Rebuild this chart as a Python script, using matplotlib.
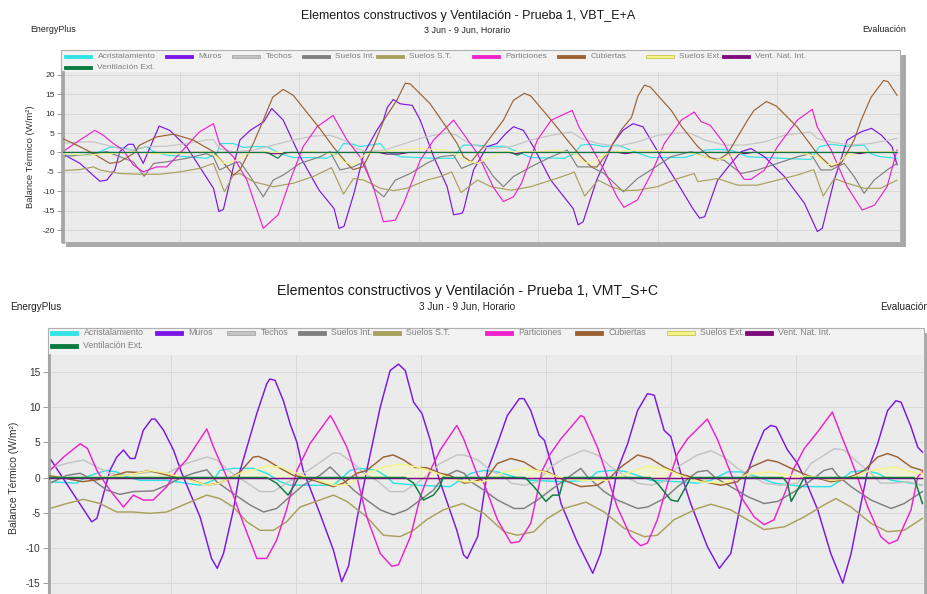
import matplotlib
matplotlib.use('Agg')
import matplotlib.pyplot as plt
from matplotlib.patches import Rectangle

plt.rcParams['font.family'] = ['Liberation Sans', 'DejaVu Sans']
plt.rcParams['axes.unicode_minus'] = False

W, H = 928, 594

# legend order / colours
names = ['Acristalamiento', 'Muros', 'Techos', 'Suelos Int.', 'Suelos S.T.',
         'Particiones', 'Cubiertas', 'Suelos Ext.', 'Vent. Nat. Int.', 'Ventilación Ext.']
colors = ['#30e3e6', '#7b16e6', '#c4c4c4', '#808080', '#a9a05c',
          '#ee22cc', '#9c6233', '#f4f48a', '#7d0a7d', '#0b7a3e']

# ---------------- Prueba 1, VBT_E+A  (hour of week, W/m2) ----------------
vbt_acris_h = [0, 6, 8, 10, 12, 14.7, 17.4, 18.8, 21.4, 25.4, 29.4, 31.5, 32.1, 34.8, 36.8, 38.8, 41.5, 44.2, 46.8, 50.8,
               53.5, 55.5, 56.9, 58.9, 60.2, 64.3, 65.6, 68.3, 75, 79, 80.3, 81, 83.8, 86.5, 89.2, 91.8, 94.5, 101.2, 103.2, 104.6,
               106.6, 109.2, 111.9, 113.2, 115.2, 118.6, 125.3, 128, 129.4, 132, 134.7, 138, 144.8, 150.7, 152.4, 154.8, 158, 161.4, 162.7, 164.7, 168]
vbt_acris_v = [-0.7, -0.7, 0.2, 1.3, 1.3, 0.6, 1.5, 0.2, -0.7, -1.1, -1.5, -0.3, 2.3, 2.3, 1.3, 1.5, 1.5, -0.3, -1.3, -1.3,
               -1.5, -0.3, 2.3, 2.1, 1.5, 2.3, 0.2, -1.1, -1.5, -1.5, 1.0, 1.9, 1.9, 1.5, 1.6, 0.2, -1.3, -1.5, -0.3, 1.9,
               2.1, 1.5, 1.9, 1.3, 0.2, -1.3, -1.3, -0.3, 0.6, 0.8, 0.6, -1.1, -1.5, -1.8, 1.5, 2.1, 1.6, 1.9, -0.3, -1.1, -1.5]

vbt_muros_h = [0, 4, 8, 9.4, 11, 12, 13.7, 14.7, 16.7, 19.9, 22, 25.4, 30.8, 31.9, 32.8, 34.8, 36.1, 38.2, 40.9, 42.5,
               44.8, 48.2, 52, 55, 56, 57, 59, 61, 63.6, 64.9, 65.7, 66.9, 68.3, 70.7, 72.3, 75, 77.7, 79, 80.7, 81,
               83, 85.7, 87.7, 89.5, 91, 93, 95, 98.5, 103, 104, 105, 107.7, 111, 113, 115, 117, 120.6, 124, 127, 128.4,
               129.4, 132, 134.7, 136.7, 138.7, 141.4, 145.4, 149.4, 152, 153, 155.4, 158, 160.8, 162.9, 164.9, 167, 168]
vbt_muros_v = [0, -2.8, -7.4, -7.1, -4.5, 0.2, 2.1, 2.1, -2.8, 6.8, 5.7, 1.5, -9.2, -15.2, -14.6, -3.7, 3.2, 5.7, 7.9, 11.3,
               8.3, -1.1, -9.7, -14.4, -19.5, -19.0, -10.5, -0.3, 5.7, 8.3, 11.6, 13.6, 12.5, 12.1, 8.3, -1.1, -8.8, -16.0, -15.6, -14.8,
               -4.5, 1.5, 2.3, 4.9, 6.6, 5.7, 1.5, -7.1, -14.4, -18.6, -17.8, -7.1, 2.3, 5.7, 7.4, 6.6, -1.1, -8.0, -14.4, -16.9,
               -16.5, -7.1, -2.8, 0.2, 1.0, -1.1, -6.2, -13.0, -20.3, -19.5, -7.1, 3.2, 5.3, 6.2, 4.4, 1.5, -3.2]

vbt_techos_h = [0, 4, 6.7, 9.4, 12, 14.7, 17.4, 21.4, 25.4, 29.4, 30.8, 32, 34.8, 38.8, 42.8, 46.8, 50.8, 54.2, 56.9, 59.6,
                61.6, 65, 68.3, 72.3, 75, 77.7, 79.5, 81, 83, 86.5, 90.5, 94.5, 98.6, 102.6, 104.6, 108, 111.9, 115.9, 120, 124,
                126.6, 129.4, 133.3, 137.3, 141.4, 145.4, 150.6, 152, 154.8, 158.7, 162.7, 168]
vbt_techos_v = [2.3, 2.7, 2.7, 1.9, 1.0, 0.6, 1.5, 1.6, 2.3, 3.2, 3.3, 1.0, 0.2, 0.6, 1.9, 3.2, 4.2, 4.4, 3.2, 1.0,
                0.2, 0.6, 1.9, 3.6, 4.4, 5.0, 4.5, 3.2, 1.9, 1.0, 1.5, 3.2, 4.4, 5.3, 3.6, 2.3, 1.6, 2.7, 4.4, 5.0,
                4.9, 3.2, 1.9, 1.9, 2.7, 4.4, 5.3, 3.6, 2.7, 1.9, 2.3, 3.6]

vbt_sint_h = [0, 4, 6.7, 9.4, 12, 14.7, 16.9, 18.8, 21.4, 25.4, 29.4, 30.8, 32, 34.8, 36.1, 38.2, 40.8, 42.8, 44.8, 48.2,
              52.2, 54.2, 56.2, 58.9, 61, 62.9, 65, 67.3, 70.3, 73.6, 76.3, 79, 80.6, 83, 85, 87, 89, 91, 94.5, 98.6,
              101.8, 103.9, 106.6, 109.2, 113.1, 115.9, 118.6, 122.6, 126.7, 129.4, 133.3, 136.7, 140, 144, 148, 150.7, 152.7, 154.8, 157.4, 159.4,
              161.4, 163.4, 166, 168]
vbt_sint_v = [-1.1, -0.7, -0.3, 0.2, -1.1, -2.4, -6.1, -2.8, -2.4, -1.5, -0.3, -1.1, -4.5, -2.8, -2.4, -6.2, -11.4, -7.1, -5.8, -2.8,
              -1.1, 0.2, -4.5, -3.7, -2.4, -9.2, -11.4, -7.1, -5.4, -2.8, -1.1, -0.7, -4.1, -2.8, -2.4, -6.2, -8.8, -6.2, -3.7, -1.1,
              0.6, -3.7, -3.7, -5.4, -10.1, -6.7, -4.5, -1.1, 0.2, -1.1, -2.0, -5.4, -4.5, -2.8, -1.1, -0.3, -4.5, -4.5, -2.8, -6.2,
              -10.5, -7.1, -4.5, -2.8]

vbt_sst_h = [0, 4, 6.7, 8, 12, 16, 20, 24, 28, 30.8, 33, 34.8, 36.1, 38.8, 42.8, 46.8, 50.8, 54.5, 56.9, 58.9,
             61, 64.3, 67, 69.6, 73.6, 76.3, 78.6, 80.5, 83.8, 86.5, 90.5, 94.5, 98.6, 102.6, 103.2, 105.3, 108, 110.6, 113.2, 115.9,
             119.9, 124, 127.3, 128, 132, 136, 140, 144, 148, 151.3, 153.2, 155.4, 158, 161.4, 164.7, 168]
vbt_sst_v = [-4.7, -4.4, -3.7, -4.5, -5.4, -5.6, -5.6, -5.0, -4.1, -2.8, -10.1, -5.8, -5.4, -7.5, -8.8, -7.9, -6.2, -3.9, -10.7, -6.7,
             -7.1, -9.2, -9.8, -9.2, -7.1, -6.2, -5.0, -10.3, -7.1, -8.8, -9.7, -8.8, -7.1, -5.4, -5.0, -11.2, -7.1, -8.8, -9.8, -9.7,
             -8.8, -6.7, -5.4, -7.5, -6.7, -8.4, -8.4, -7.1, -5.8, -4.4, -11.2, -6.7, -7.9, -9.2, -9.2, -7.1]

vbt_part_h = [0, 4, 7, 8.7, 10.7, 12.7, 14.7, 16.7, 19.4, 21.4, 24, 28, 30.8, 32, 34.8, 37.5, 40.8, 43.8, 46.2, 48.8,
              51.6, 54.8, 57.6, 60.2, 62.9, 64.9, 67.3, 69, 72.3, 75, 79, 83.8, 87, 89, 91, 92.6, 95.8, 98.6, 102.8, 104.2,
              106.6, 109.2, 111.8, 113.2, 115.9, 118.7, 121.3, 124.7, 127.3, 128.7, 130.5, 133.3, 136, 137.3, 138.7, 141.4, 144, 148, 151, 152,
              154.8, 158, 161, 163.5, 166, 168]
vbt_part_v = [-0.3, 3.2, 5.7, 4.4, 2.3, 0.6, -3.2, -5.0, -3.7, -3.7, -0.3, 5.3, 7.4, 2.3, -1.1, -7.1, -19.5, -16.0, -7.1, 1.5,
              6.6, 9.5, 3.2, -1.1, -8.8, -17.8, -17.4, -13.0, -2.0, 3.2, 8.3, -0.3, -9.0, -12.6, -11.4, -8.0, 3.2, 8.3, 10.8, 6.5,
              1.5, -4.5, -11.4, -14.1, -12.2, -5.4, 2.3, 8.3, 10.4, 7.9, 7.0, 2.3, -4.5, -6.9, -6.9, -4.5, 1.5, 8.3, 11.1, 6.5,
              0.6, -8.8, -14.8, -13.5, -8.8, 0.6]

vbt_cub_h = [0, 4, 6.7, 10, 12, 14.7, 16, 19.4, 22.8, 26.7, 30.8, 33.5, 34.8, 36.1, 38.8, 40.8, 42.7, 44.8, 46.8, 52,
             54.8, 57.6, 58.8, 60.8, 62.9, 65, 67.6, 69.3, 70.3, 74.3, 77.5, 79.7, 81, 82.5, 85, 89, 91, 93.2, 94.5, 98.6,
             101.8, 104.6, 106.6, 107.8, 109.8, 112.6, 114.7, 116, 117.3, 118.5, 122.7, 124.7, 128, 130.7, 132, 134, 136, 138, 139.3, 141.8,
             143.8, 148, 152, 154.8, 156.8, 159.4, 160.8, 162.8, 165.3, 166.2, 168]
vbt_cub_v = [3.9, 1.5, -0.3, -2.8, -2.4, -0.3, 1.9, 4.0, 4.7, 3.2, 0.2, -3.7, -5.8, -4.5, 2.3, 8.3, 14.2, 16.2, 14.7, 6.4,
             1.5, -2.8, -4.4, -3.7, 1.5, 8.3, 13.4, 17.8, 17.6, 12.5, 6.6, 2.3, -1.1, -2.4, 1.5, 8.3, 13.4, 15.2, 14.5, 8.3,
             3.2, -1.1, -3.7, -3.7, -0.3, 5.7, 9.0, 14.5, 17.3, 16.8, 10.8, 6.8, 1.5, -1.5, -2.0, -0.3, 4.0, 8.3, 10.8, 13.1,
             11.9, 6.5, -0.3, -3.7, -2.8, 3.2, 8.3, 14.2, 18.5, 18.2, 14.7]

vbt_sext_h = [0, 5.4, 10, 14.7, 18.8, 24, 29.4, 31.5, 32.8, 34.8, 37.5, 41.5, 45.5, 50.8, 54.9, 56.9, 58.9, 60.2, 61.6, 67,
              72.3, 77.7, 80.6, 81, 83.8, 86.5, 89.2, 94.5, 99.9, 103.2, 104.6, 106.6, 108.6, 110.6, 115.9, 121.3, 126.7, 129.4, 131.4, 133.4,
              136, 141.4, 148, 152, 154, 156, 158, 161.4, 168]
vbt_sext_v = [-0.3, -0.7, -0.3, 0.2, -0.3, -0.3, 0.2, -1.1, -2.8, -2.4, -0.3, 0.2, -0.1, 0.2, -0.3, -2.4, -3.2, -1.5, -0.3, 0.6,
              1.0, 0.6, -1.1, -2.0, -2.8, -1.1, 0.2, 0.2, 0.6, -0.3, -2.4, -2.8, -1.1, 0.2, 0.6, 0.4, -0.1, -1.1, -2.0, -1.5,
              -0.3, 0.2, 0.2, -1.1, -3.2, -2.8, -0.7, 0.2, 0.2]

vbt_vni_h = [0, 41, 42.5, 44.5, 46, 64, 65.5, 68, 70, 90, 91.5, 93, 112, 113.5, 115, 136, 137.5, 139, 159, 160.5, 162, 168]
vbt_vni_v = [0, 0, -0.3, -0.3, 0, 0, -0.4, -0.4, 0, 0, -0.3, 0, 0, -0.3, 0, 0, -0.3, 0, 0, -0.3, 0, 0]

vbt_vext_h = [0, 41.5, 42.8, 43.7, 45, 90.5, 91.8, 93, 168]
vbt_vext_v = [0, 0, -0.8, -1.5, 0, 0, -0.7, 0, 0]

# ---------------- Prueba 1, VMT_S+C ----------------
vmt_acris_h = [0, 5.9, 7.8, 9.8, 11.7, 13.6, 15.5, 18.1, 23.2, 29.6, 32.2, 33.4, 36, 39.8, 42.4, 45, 46.9, 55.2, 57.1, 58.4,
               60.3, 63.5, 65.5, 66.7, 71.2, 77.6, 79.5, 81.6, 84.1, 86.7, 89.9, 93.1, 99.5, 104, 105.9, 108.5, 111, 113.6, 116.1, 121.3,
               125.1, 127.7, 130.9, 133.4, 136.6, 139.8, 145.6, 150.7, 152.6, 154.6, 157.1, 159.7, 162.3, 166.1, 168.3]
vmt_acris_v = [-0.6, -0.8, 0.1, 0.6, 1.0, 0.8, 0.1, -0.4, -0.4, -1.1, -0.4, 1.0, 1.3, 1.3, 0.6, -0.6, -1.1, -1.1, 0.1, 1.0,
               1.3, 1.0, 0.1, -0.8, -1.1, -1.3, -0.4, 0.6, 1.0, 0.8, 0.1, -0.4, -0.6, -0.4, 0.8, 1.0, 0.9, 0.3, -0.4, -0.6,
               -0.8, -0.4, 0.8, 0.8, 0.1, -0.8, -1.3, -1.3, -0.4, 0.8, 1.0, 0.6, -0.4, -0.8, -1.1]

vmt_muros_h = [0, 0.8, 8.8, 9.8, 12.3, 13.6, 14.9, 16.2, 17.1, 18.7, 20.3, 21, 22.6, 24.5, 26.1, 29.6, 31.8, 32.9, 34.1, 36,
               37.3, 38.6, 40.5, 42.4, 43, 44, 45.6, 46.9, 48.2, 49.4, 52.6, 55.2, 56.8, 58.1, 59.7, 61.6, 62.3, 64.2, 66.1, 67.7,
               69, 70.6, 72.2, 73.8, 75.4, 78.9, 80.2, 80.9, 82.9, 84.8, 86.7, 88.6, 90.9, 91.8, 93.1, 94.7, 95.7, 97.6, 98.9, 102.1,
               105, 106.5, 108.5, 109.7, 111.7, 113.6, 115.5, 116.8, 118.7, 120, 121.9, 123.8, 127, 129.3, 131.5, 133.4, 134.4, 136, 137.9, 139.2,
               140.2, 142.4, 144.3, 145.6, 148.2, 150.7, 153, 154.6, 156.5, 157.8, 159.7, 161.6, 163.2, 164.2, 166.1, 167.4, 168.3]
vmt_muros_v = [3.0, 2.7, -6.3, -5.8, 1.0, 2.9, 3.9, 2.7, 2.7, 6.7, 8.3, 8.3, 6.7, 3.9, 0.6, -5.6, -11.5, -12.9, -10.8, -4.6,
               1.0, 4.3, 9.1, 13.3, 14.0, 13.8, 10.9, 7.6, 5.0, 1.0, -5.1, -10.3, -14.8, -12.6, -6.0, 1.0, 3.4, 10.0, 15.2, 16.1,
               15.2, 10.7, 9.1, 5.3, 0.0, -7.5, -11.0, -11.5, -8.4, 1.0, 4.8, 8.8, 11.2, 11.2, 9.5, 6.0, 5.3, 0.6, -3.7, -9.3,
               -13.6, -10.8, -3.7, 1.0, 4.8, 9.5, 11.9, 11.7, 6.7, 5.8, 0.6, -3.7, -9.8, -12.9, -10.8, -3.7, 0.1, 3.4, 6.7, 7.4,
               7.2, 3.9, 2.0, 0.0, -4.6, -10.8, -15.0, -10.8, -3.7, 1.0, 4.8, 9.5, 10.9, 10.7, 7.2, 4.3, 3.6]

vmt_techos_h = [0, 0.8, 4, 7.2, 9.8, 12.3, 14.9, 18.1, 20.6, 23.2, 27, 30.9, 32.8, 35.4, 37.9, 41.1, 43.7, 46.2, 48.8, 51.4,
                55.2, 56.5, 59.1, 61, 63.5, 66.1, 68.7, 71.2, 73.8, 75.7, 78.9, 80.3, 82.9, 85.4, 88, 89.3, 91.8, 94.4, 96.9, 99.5,
                103.3, 105.9, 108.5, 111, 113.6, 116.1, 118.7, 121.3, 125.1, 127.7, 130.2, 132.8, 135.4, 137.9, 141.1, 144.3, 146.9, 151.4, 153.3, 155.8,
                158.4, 160.3, 162.9, 165.4, 168.3]
vmt_techos_v = [1.2, 1.3, 2.0, 2.5, 1.5, 0.6, 0.3, 0.6, 0.8, 0.6, 2.0, 2.9, 2.5, 0.8, -0.4, -2.0, -2.0, -0.8, 0.3, 1.5,
                3.5, 3.4, 2.0, 0.6, -0.4, -2.0, -2.0, -0.8, 0.6, 2.0, 3.2, 3.2, 2.5, 1.0, 0.1, -0.8, -1.1, -0.6, 1.5, 2.7,
                3.9, 3.2, 1.5, 0.3, -0.8, -1.1, -0.6, 1.5, 3.2, 3.8, 2.9, 1.3, 0.3, -0.8, -1.1, -0.8, 2.0, 4.1, 3.9, 2.2,
                0.6, -0.8, -0.8, -0.6, -1.1]

vmt_sint_h = [0, 0.8, 4, 6.6, 9.1, 11.7, 14.2, 16.8, 20.6, 23.2, 25.8, 28.3, 30.9, 32.8, 36, 39.2, 41.8, 44.3, 46.9, 49.4,
              52.6, 54.6, 56.5, 59.1, 61.6, 64.2, 66.7, 69.3, 71.9, 74.4, 76.3, 78.9, 80.3, 81.6, 84.1, 86.7, 89.9, 91.8, 94.4, 96.9,
              99.5, 102.7, 104, 107.2, 109.7, 113.6, 115.5, 118.7, 121.3, 125.1, 127, 128.5, 131.5, 134.7, 137.9, 140.5, 143.7, 146.2, 149.4, 151,
              152, 154.6, 158.4, 162.3, 164.8, 168.3]
vmt_sint_v = [-0.9, -0.8, 0.3, 0.6, -0.4, -1.8, -2.4, -2.0, -1.9, -1.1, -0.1, 0.6, 1.1, -0.6, -2.3, -3.9, -4.9, -4.4, -2.7, -1.1,
              0.3, 1.5, 0.1, -1.8, -3.2, -4.6, -5.3, -4.6, -3.2, -1.8, 0.1, 1.0, 0.6, -0.6, -1.8, -3.2, -4.4, -4.4, -3.2, -1.8,
              -0.4, 1.3, 0.1, -2.0, -3.2, -4.4, -4.2, -3.0, -1.3, 0.8, 1.0, 0.0, -1.3, -2.7, -3.7, -3.4, -2.0, -0.8, 1.0, 1.3,
              0.3, -1.3, -3.2, -4.4, -3.7, -2.0]

vmt_sst_h = [0, 0.8, 4, 7.2, 10.4, 13.6, 16.8, 20, 23.2, 27, 30.9, 33.4, 36, 38.6, 41.1, 43.7, 46.2, 48.8, 52.6, 55.2,
             57.8, 61.6, 64.8, 68, 70.6, 73.1, 76.3, 80, 84.1, 88, 90.5, 93.7, 96.3, 99.5, 103.7, 107.2, 111, 114.9, 117.4, 120.6,
             125.1, 127.7, 131.5, 134.7, 137.9, 141.8, 145.6, 149.4, 151.7, 154.6, 158.4, 161.6, 164.8, 168.3]
vmt_sst_v = [-4.5, -4.4, -3.7, -3.1, -3.7, -4.9, -4.9, -5.1, -4.9, -3.7, -2.5, -3.0, -4.2, -6.3, -7.5, -7.5, -6.3, -4.2, -3.2, -2.5,
             -3.4, -5.6, -8.2, -8.4, -7.5, -6.0, -4.6, -3.7, -5.1, -7.7, -8.2, -7.7, -5.8, -4.4, -3.5, -4.9, -7.2, -8.4, -8.2, -6.0,
             -4.4, -3.8, -4.6, -6.0, -7.4, -7.0, -5.6, -3.9, -3.0, -4.2, -6.5, -7.7, -7.5, -5.8]

vmt_part_h = [0, 0.8, 3.4, 6.6, 8, 9.8, 10.4, 12.3, 14.9, 16.8, 18.7, 20.6, 23.2, 25.1, 27, 30.9, 32.2, 34.7, 37.9, 40.5,
              42.4, 44.3, 46.2, 48.2, 50.7, 54.6, 55.2, 57.8, 59.7, 61.6, 64.2, 66.4, 67.7, 70, 71.9, 73.8, 75.7, 78.9, 80.2, 82.9,
              84.1, 86.7, 89.3, 90.9, 93.1, 95.3, 96.9, 98.9, 102.7, 103.3, 105.9, 107.8, 109.7, 112.3, 114.2, 115.5, 117.4, 119.4, 121.3, 123.2,
              127, 129, 131.5, 133.4, 136, 137.9, 139.8, 142.1, 143.4, 145.6, 148.2, 151, 152.6, 154.6, 155.8, 157.8, 160.3, 161.9, 163.5, 166.1,
              167.4, 168.3]
vmt_part_v = [0.8, 1.0, 2.9, 4.8, 4.1, 1.0, 0.3, -1.8, -4.2, -2.5, -3.2, -3.2, -1.3, 1.0, 2.5, 6.9, 4.3, 0.1, -6.5, -11.5,
              -11.5, -8.9, -4.6, 1.0, 4.8, 8.8, 8.1, 4.3, 0.1, -5.6, -10.8, -12.6, -12.4, -8.4, -2.7, 1.0, 3.9, 7.4, 5.5, 0.3,
              -0.8, -6.0, -9.3, -9.1, -6.5, 1.0, 3.4, 5.5, 8.8, 8.6, 4.3, 0.1, -4.2, -8.4, -9.7, -9.3, -6.0, -0.8, 3.4, 5.5,
              8.3, 5.3, 0.6, -2.7, -5.6, -6.7, -6.0, -1.8, 1.0, 4.1, 6.5, 9.3, 6.2, 2.5, 0.1, -4.2, -8.4, -9.4, -8.9, -4.6,
              0.1, 0.8]

vmt_cub_h = [0, 3, 7, 10, 12.3, 15.5, 18, 19.7, 21.9, 24.5, 27, 30.9, 33.4, 36, 37.3, 39.8, 40.8, 42.4, 45, 47.5,
             48.8, 51.4, 55.2, 57.1, 59.7, 61.6, 64.8, 66.7, 68.7, 70.9, 73.1, 75.7, 77.6, 80.3, 82.2, 84.8, 86.7, 89.3, 91.8, 94.4,
             96.3, 98.2, 99.5, 102.7, 105.9, 108.5, 110.4, 113.6, 116.1, 118.7, 121.3, 123.8, 126.4, 129.6, 132.8, 135.4, 138.6, 140.5, 143.1, 146.2,
             150.7, 152.6, 155.2, 157.1, 159.7, 161.6, 163.5, 166.1, 168.3]
vmt_cub_v = [0.3, 0.0, -0.6, -0.3, 0.1, 0.8, 0.7, 1.0, 0.6, 0.1, -0.1, -1.1, -0.8, 0.2, 0.8, 2.9, 3.0, 2.5, 1.3, 0.3,
             0.1, -0.4, -1.3, -0.8, 0.6, 1.0, 2.9, 3.2, 2.5, 1.4, 1.4, 0.6, 0.3, -0.8, -0.6, 0.1, 2.0, 2.7, 2.2, 1.0,
             0.8, 0.1, -0.4, -1.3, -1.1, 0.1, 1.5, 3.2, 2.7, 1.5, 0.6, 0.1, -0.6, -1.1, -0.6, 1.5, 2.5, 2.2, 1.3, 0.3,
             -0.6, -0.4, 0.3, 1.0, 2.9, 3.4, 2.9, 1.5, 1.0]

vmt_sext_h = [0, 10, 15.5, 20, 23.2, 26, 30.9, 33.4, 37.3, 42.4, 45, 47.5, 50.1, 55.2, 57.8, 61.6, 64.8, 68, 71.2, 74.4,
              77, 80.3, 84.1, 88, 91.8, 95.7, 98.2, 102.7, 107.8, 112.3, 115.5, 118.7, 121.9, 125.1, 130.2, 135.4, 139.2, 143.1, 147.5, 150.7,
              154, 158.4, 162.9, 166.1, 168.3]
vmt_sext_v = [0.0, 0.0, 0.3, 1.0, 0.6, 0.0, -1.1, -0.8, 0.6, 1.6, 1.5, 0.8, 0.1, -1.1, -1.1, 0.6, 1.5, 1.9, 1.5, 0.8,
              0.1, -0.6, -0.6, 0.8, 1.3, 0.8, 0.1, -0.4, -0.4, 0.8, 1.6, 1.3, 0.3, -0.6, -0.8, 0.6, 0.8, 0.3, 0.1, -0.4,
              -0.2, 1.0, 1.5, 0.8, 0.6]

vmt_vni_h = [0, 168.3]
vmt_vni_v = [0, 0]

vmt_vext_h = [0, 42.4, 44.3, 46.5, 47.8, 48.5, 69, 70.6, 72.5, 74.4, 75.5, 76.3, 92, 93.7, 96, 97.3, 98.6, 99.5, 116, 117.4,
              120, 121.3, 122.9, 123.8, 141.5, 142.4, 143.1, 144.3, 145.6, 166.7, 168.3]
vmt_vext_v = [0, 0, -0.8, -2.5, -1.0, 0, 0, -0.8, -3.2, -2.5, -1.5, 0, 0, -1.3, -3.4, -2.5, -2.5, 0, 0, -0.8,
              -3.2, -3.4, -1.3, 0, 0, -0.8, -3.4, -1.8, 0, 0, -3.7]

vbt_series = [(vbt_acris_h, vbt_acris_v), (vbt_muros_h, vbt_muros_v), (vbt_techos_h, vbt_techos_v),
              (vbt_sint_h, vbt_sint_v), (vbt_sst_h, vbt_sst_v), (vbt_part_h, vbt_part_v),
              (vbt_cub_h, vbt_cub_v), (vbt_sext_h, vbt_sext_v), (vbt_vni_h, vbt_vni_v), (vbt_vext_h, vbt_vext_v)]
vmt_series = [(vmt_acris_h, vmt_acris_v), (vmt_muros_h, vmt_muros_v), (vmt_techos_h, vmt_techos_v),
              (vmt_sint_h, vmt_sint_v), (vmt_sst_h, vmt_sst_v), (vmt_part_h, vmt_part_v),
              (vmt_cub_h, vmt_cub_v), (vmt_sext_h, vmt_sext_v), (vmt_vni_h, vmt_vni_v), (vmt_vext_h, vmt_vext_v)]

day_ticks = [24, 48, 72, 96, 120, 144]

fig = plt.figure(figsize=(W / 100, H / 100), dpi=100)
# background layer in pixel coordinates (frames, legend, titles)
bg = fig.add_axes([0, 0, 1, 1], zorder=0)
bg.set_xlim(0, W)
bg.set_ylim(H, 0)
bg.axis('off')


def panel(series, title, lay):
    # frame + shadow
    fx0, fy0, fx1, fy1 = lay['frame']
    bg.add_patch(Rectangle((fx1 + 0.5, fy0 + 5), 5, fy1 - fy0, fc='#a9a9a9', ec='none'))
    bg.add_patch(Rectangle((fx0 + 5, fy1), fx1 - fx0, 5, fc='#a9a9a9', ec='none'))
    bg.add_patch(Rectangle((fx0, fy0), fx1 - fx0, fy1 - fy0, fc='#f2f2f2', ec='#b0b0b0', lw=0.8))

    # titles
    bg.text(468, lay['title_y'], title, ha='center', va='center', fontsize=lay['title_fs'], color='#1a1a1a')
    bg.text(467, lay['sub_y'], '3 Jun - 9 Jun, Horario', ha='center', va='center', fontsize=lay['small_fs'], color='#222222')
    bg.text(lay['ep_x'], lay['sub_y'], 'EnergyPlus', ha='left', va='center', fontsize=lay['small_fs'], color='#222222')
    bg.text(lay['ev_x'], lay['sub_y'], 'Evaluación', ha=lay['ev_ha'], va='center', fontsize=lay['small_fs'], color='#222222')

    # legend
    for i, (name, col) in enumerate(zip(names, colors)):
        if i < 9:
            x, y = lay['leg_x'][i], lay['leg_y'][0]
        else:
            x, y = lay['leg_x'][0], lay['leg_y'][1]
        ec = col
        if name == 'Suelos Ext.':
            ec = '#c8c650'
        elif name == 'Techos':
            ec = '#a8a8a8'
        bg.add_patch(Rectangle((x, y - 1.8), 28, 3.6, fc=col, ec=ec, lw=0.6))
        bg.text(x + 33.5, y, name, ha='left', va='center', fontsize=lay['leg_fs'], color='#808080')

    # plot area
    l, t, r, b = lay['plot']
    ax = fig.add_axes([l / W, 1 - b / H, (r - l) / W, (b - t) / H], zorder=1)
    ax.set_facecolor('#ebebeb')
    for i, ((hh, vv), col) in enumerate(zip(series, colors)):
        if names[i] == 'Suelos Ext.' and lay['fill_alpha'] > 0:
            ax.fill_between(hh, 0, vv, color='#ffffa8', alpha=lay['fill_alpha'], lw=0, zorder=1)
        ax.plot(hh, vv, color=col, lw=lay['lw'], zorder=2 + i * 0.1)
    ax.set_xlim(0.6, 168.6)
    ax.set_ylim(*lay['ylim'])
    ax.set_yticks(lay['yticks'])
    ax.set_xticks(day_ticks)
    ax.grid(True, color='#d9d9d9', lw=0.7, zorder=0)
    ax.set_axisbelow(True)
    ax.tick_params(axis='x', length=0, labelbottom=False)
    ax.tick_params(axis='y', length=4, width=0.6, color='#8c8c8c', labelsize=lay['tick_fs'],
                   labelcolor='#333333', pad=2)
    for s in ['top', 'right', 'bottom']:
        ax.spines[s].set_visible(False)
    ax.spines['left'].set_color('#a4a4a4')
    ax.spines['left'].set_linewidth(2.0)

    bg.text(lay['ylab_x'], (t + b) / 2, 'Balance Térmico (W/m²)', rotation=90, ha='center', va='center',
            fontsize=lay['ylab_fs'], color='#333333')
    return ax


top_layout = dict(frame=(61, 50, 900.5, 242), plot=(63, 71.5, 900, 242),
                  ylim=(-23.0, 20.8), yticks=[-20, -15, -10, -5, 0, 5, 10, 15, 20],
                  title_y=15.5, sub_y=30, title_fs=9.0, small_fs=6.4,
                  ep_x=30, ev_x=906, ev_ha='right',
                  leg_x=[64, 165, 232, 302, 376, 472, 557, 646, 722], leg_y=[56.7, 67.7], leg_fs=6.0,
                  tick_fs=6.1, ylab_x=31, ylab_fs=6.8, lw=0.85, fill_alpha=0)

bot_layout = dict(frame=(48, 327.5, 924.5, 610), plot=(49, 355, 924, 600),
                  ylim=(-17.4, 17.4), yticks=[-15, -10, -5, 0, 5, 10, 15],
                  title_y=291.5, sub_y=306.5, title_fs=10.2, small_fs=7.2,
                  ep_x=10, ev_x=880, ev_ha='left',
                  leg_x=[50, 155, 227, 298, 373, 485, 575, 667, 745], leg_y=[332.7, 346], leg_fs=6.3,
                  tick_fs=7.3, ylab_x=14, ylab_fs=7.5, lw=1.05, fill_alpha=0.35)

panel(vbt_series, 'Elementos constructivos y Ventilación - Prueba 1, VBT_E+A', top_layout)
panel(vmt_series, 'Elementos constructivos y Ventilación - Prueba 1, VMT_S+C', bot_layout)

fig.savefig('out.png', dpi=100, facecolor='white')
